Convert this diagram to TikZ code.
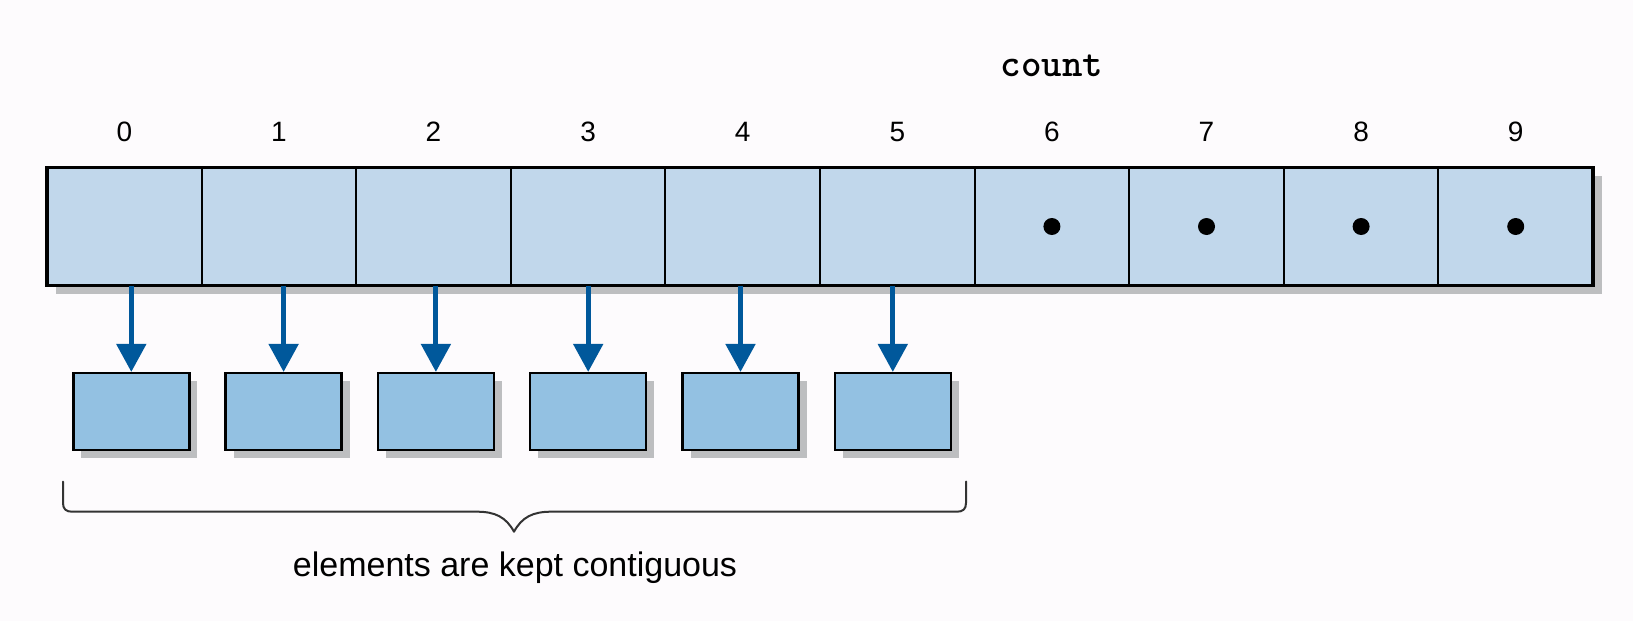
\documentclass[tikz,border=0pt]{standalone}
\usepackage{fontspec}
\setmainfont{Liberation Sans}
\usetikzlibrary{arrows.meta,shadows}
\definecolor{bgc}{HTML}{FDFBFD}
\definecolor{cellfill}{HTML}{C1D7EB}
\definecolor{boxfill}{HTML}{93C1E2}
\definecolor{arrc}{HTML}{00589B}
\definecolor{shadowc}{HTML}{BDBEC0}
\definecolor{bracec}{HTML}{333333}
\tikzset{
  cell/.style={draw=black,line width=2pt,fill=cellfill,minimum width=154.6pt,minimum height=118pt,inner sep=0pt,outer sep=0pt},
  outerbox/.style={draw=black,line width=3.5pt},
  idx/.style={font=\fontsize{28}{30}\selectfont,anchor=base,inner sep=0pt},
  dotnode/.style={circle,fill=black,minimum size=17pt,inner sep=0pt},
  smallbox/.style={draw=black,line width=2.5pt,fill=boxfill,minimum width=116pt,minimum height=77pt,inner sep=0pt,
    drop shadow={shadow xshift=8pt,shadow yshift=-8pt,fill=shadowc,opacity=1}},
  arr/.style={draw=arrc,line width=5pt,-{Triangle[length=28pt,width=29pt]}},
  bracestyle/.style={draw=bracec,line width=2pt,line cap=round,line join=round},
  captext/.style={font=\fontsize{34}{37}\selectfont,anchor=base,inner sep=0pt},
  countlbl/.style={font=\ttfamily\bfseries\fontsize{39}{42}\selectfont,anchor=base,inner sep=0pt}
}
\begin{document}
\begin{tikzpicture}[x=1pt,y=-1pt]
\fill[bgc] (0,0) rectangle (1633,621);
\useasboundingbox (0,0) rectangle (1633,621);
% shadow of array
\fill[shadowc] (56,175.5) rectangle (1602,293.5);
% cells
\foreach \i in {0,...,9}{
  \node[cell] (c\i) at ({47+154.6*\i+77.3},226.5) {};
  \node[idx] (l\i) at (c\i.center |- 0,141.5) {\i};
}
\draw[outerbox] (c0.north west) rectangle (c9.south east);
\foreach \i in {6,...,9}{
  \node[dotnode] (d\i) at (c\i.center) {};
}
\node[countlbl] (count) at (c6.center |- 0,76) {count};
% small boxes and arrows
\foreach \i in {0,...,5}{
  \node[smallbox] (b\i) at ({131.3+152.3*\i},411.7) {};
  \draw[arr] (b\i.north |- c\i.south) -- (b\i.north);
}
% brace
\draw[bracestyle] (63,481.5) -- (63,503) .. controls (63,509) and (66,511.7) .. (72,511.7) -- (477,511.7)
  .. controls (495,511.7) and (506,517) .. (514,531.7)
  .. controls (522,517) and (533,511.7) .. (551,511.7) -- (957,511.7)
  .. controls (963,511.7) and (966,509) .. (966,503) -- (966,481.5);
\node[captext] (cap) at (515,576) {elements are kept contiguous};
\end{tikzpicture}
\end{document}
